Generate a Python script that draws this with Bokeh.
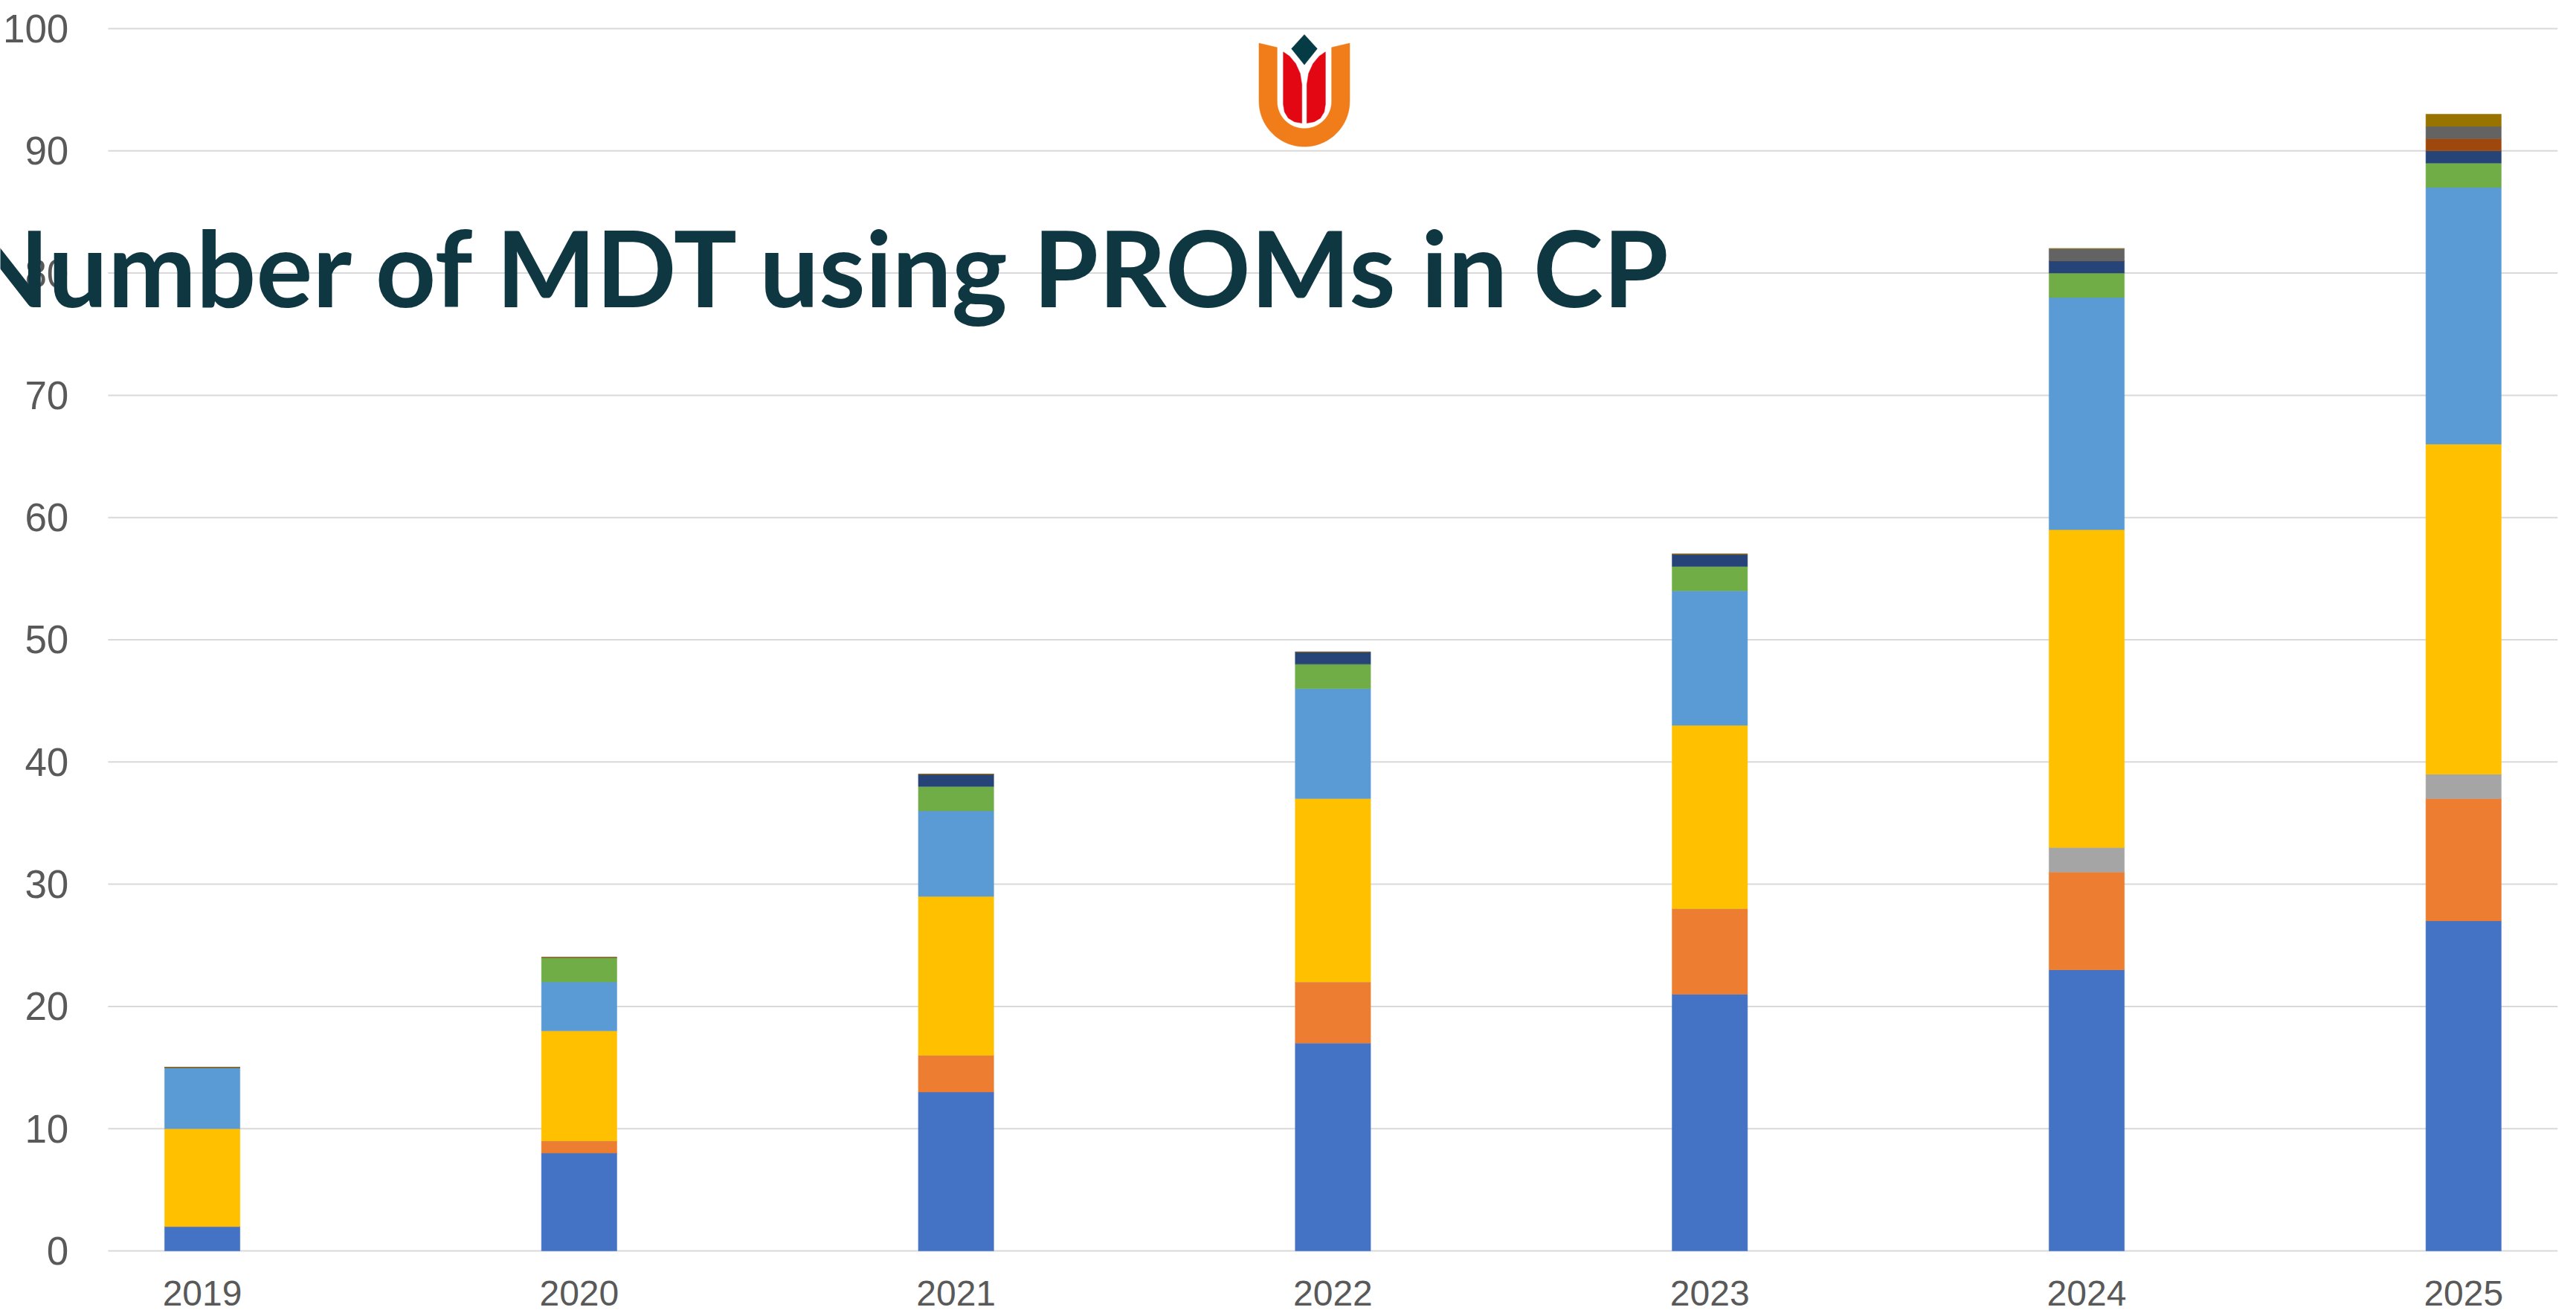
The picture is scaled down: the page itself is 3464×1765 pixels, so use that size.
import numpy as np
from bokeh.plotting import figure
from bokeh.models import Range1d, FixedTicker, LinearAxis, Label, ColumnDataSource
from bokeh.embed import file_html
from bokeh.resources import INLINE

# ---------------- data ----------------
years = ["2019", "2020", "2021", "2022", "2023", "2024", "2025"]
blue        = [2, 8, 13, 17, 21, 23, 27]
orange      = [0, 1, 3, 5, 7, 8, 10]
gray        = [0, 0, 0, 0, 0, 2, 2]
gold        = [8, 9, 13, 15, 15, 26, 27]
light_blue  = [5, 4, 7, 9, 11, 19, 21]
green       = [0, 2, 2, 2, 2, 2, 2]
dark_blue   = [0, 0, 1, 1, 1, 1, 1]
dark_orange = [0, 0, 0, 0, 0, 0, 1]
dark_gray   = [0, 0, 0, 0, 0, 1, 1]
dark_gold   = [0, 0, 0, 0, 0, 0, 1]
y_ticks = [0, 10, 20, 30, 40, 50, 60, 70, 80, 90, 100]
title_text = "Number of MDT using PROMs in CP"

series_names = ["blue", "orange", "gray", "gold", "light_blue", "green",
                "dark_blue", "dark_orange", "dark_gray", "dark_gold"]
series_values = [blue, orange, gray, gold, light_blue, green,
                 dark_blue, dark_orange, dark_gray, dark_gold]
series_colors = ["#4472C4", "#ED7D31", "#A5A5A5", "#FFC000", "#5B9BD5",
                 "#70AD47", "#264478", "#9E480E", "#636363", "#997300"]

x_pos = list(range(len(years)))
data = {"x": x_pos}
for n, v in zip(series_names, series_values):
    data[n] = v
source = ColumnDataSource(data)

# plot-area edges in x data units (half a gap beyond first/last bar slot)
x_left, x_right = -0.25, len(years) - 0.75

# ---------------- figure ----------------
p = figure(width=3464, height=1765,
           x_range=Range1d(-0.5358, x_right), y_range=Range1d(-5.11, 102.31),
           x_axis_type=None, y_axis_type=None,
           output_backend="svg", toolbar_location=None,
           min_border_left=0, min_border_right=25,
           min_border_top=0, min_border_bottom=0)
p.outline_line_color = None
p.background_fill_color = "white"
p.border_fill_color = "white"

# horizontal gridlines across the plot area only
p.segment(x0=[x_left] * len(y_ticks), x1=[x_right] * len(y_ticks),
          y0=y_ticks, y1=y_ticks, line_color="#D9D9D9", line_width=2,
          level="underlay")

yaxis = LinearAxis(fixed_location=x_left, ticker=FixedTicker(ticks=y_ticks))
yaxis.axis_line_color = None
yaxis.major_tick_line_color = None
yaxis.minor_tick_line_color = None
yaxis.major_label_text_font = "Liberation Sans"
yaxis.major_label_text_font_size = "53px"
yaxis.major_label_text_color = "#595959"
yaxis.major_label_standoff = 47
p.add_layout(yaxis, "left")

xaxis = LinearAxis(fixed_location=0, ticker=FixedTicker(ticks=x_pos),
                   major_label_overrides={i: y for i, y in zip(x_pos, years)})
xaxis.axis_line_color = None
xaxis.major_tick_line_color = None
xaxis.minor_tick_line_color = None
xaxis.major_label_text_font = "Liberation Sans"
xaxis.major_label_text_font_size = "48px"
xaxis.major_label_text_color = "#595959"
xaxis.major_label_standoff = 34
p.add_layout(xaxis, "below")

p.vbar_stack(series_names, x="x", width=0.2, color=series_colors,
             line_width=0.5, source=source)

# ---------------- decorative logo (tulip "U") ----------------
def lx(z):  # logo design units -> data x
    return ((1650 + z / 3.0) - 271.5) / 506.75

def ly(z):  # logo design units -> data y
    return (1681 - (20 + z / 3.0)) / 16.43

t_out = np.linspace(np.pi, 0, 40)
t_in = np.linspace(0, np.pi, 40)
u_x = [127, 127] + list(310 + 183 * np.cos(t_out)) + [493, 493, 420, 420] + \
      list(310 + 110 * np.cos(t_in)) + [200, 200]
u_y = [113, 347] + list(347 + 183 * np.sin(t_out)) + [347, 113, 130, 347] + \
      list(347 + 110 * np.sin(t_in)) + [347, 130]
petal_lx = [225, 250, 275, 293, 300, 300, 270, 245, 230, 225]
petal_ly = [148, 165, 195, 235, 280, 435, 430, 415, 390, 360]
petal_rx = [620 - v for v in petal_lx]
diam_x = [310, 362, 310, 258]
diam_y = [78, 135, 200, 135]

p.patch([lx(v) for v in u_x], [ly(v) for v in u_y], fill_color="#F07D19", line_color="#F07D19", line_width=0.5)
p.patch([lx(v) for v in petal_lx], [ly(v) for v in petal_ly], fill_color="#E30613", line_color="#E30613", line_width=0.5)
p.patch([lx(v) for v in petal_rx], [ly(v) for v in petal_ly], fill_color="#E30613", line_color="#E30613", line_width=0.5)
p.patch([lx(v) for v in diam_x], [ly(v) for v in diam_y], fill_color="#053B45", line_color="#053B45", line_width=0.5)

# ---------------- title ----------------
title = Label(x=3.91, y=80.58, text=title_text, text_align="right",
              text_baseline="alphabetic", text_font="Lato",
              text_font_style="bold", text_font_size="142px",
              text_color="#0E3742")
p.add_layout(title)

open("out.html", "w").write(file_html(p, INLINE))
